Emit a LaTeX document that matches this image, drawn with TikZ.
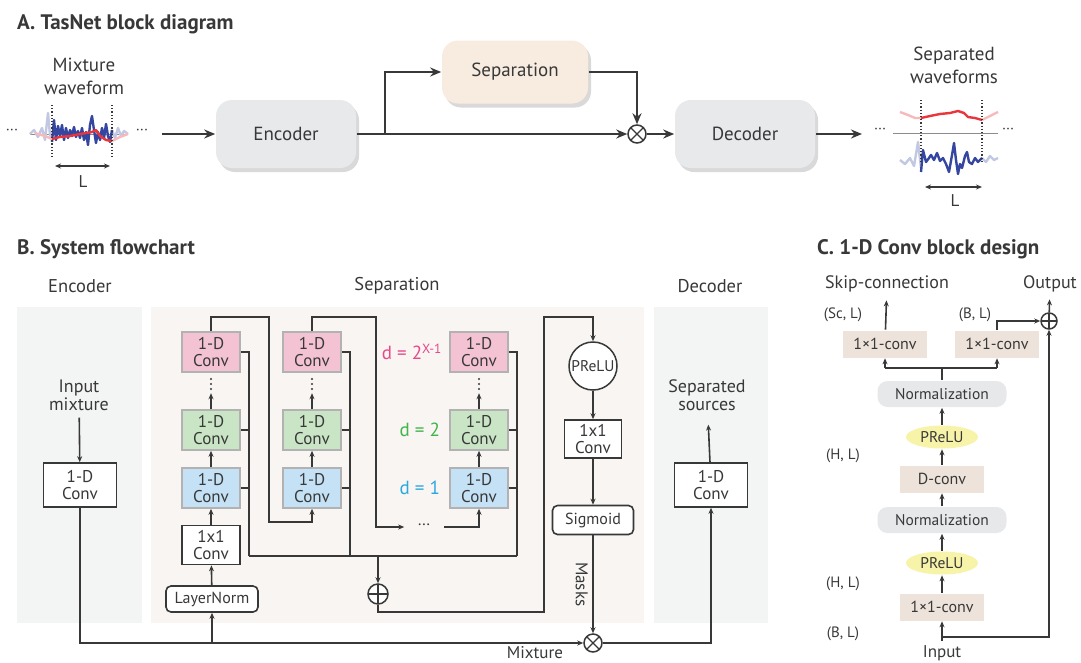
\documentclass[tikz,border=0pt]{standalone}
\usepackage{fontspec}
\setmainfont{PT Sans}
\usetikzlibrary{arrows.meta,shadows,shapes.geometric,positioning,calc}

\definecolor{txt}{HTML}{383838}
\definecolor{boxgray}{HTML}{E8E9EA}
\definecolor{sepbeige}{HTML}{F8ECE1}
\definecolor{panelgray}{HTML}{F3F4F4}
\definecolor{panelbeige}{HTML}{F8F5F2}
\definecolor{convpink}{HTML}{F4C3D3}
\definecolor{convgreen}{HTML}{C9E5C6}
\definecolor{convblue}{HTML}{C5E1F5}
\definecolor{dpink}{HTML}{E8488A}
\definecolor{dgreen}{HTML}{3FB54A}
\definecolor{dblue}{HTML}{2AA8E0}
\definecolor{tanbox}{HTML}{EDE3DA}
\definecolor{normgray}{HTML}{E7E8E9}
\definecolor{preluyel}{HTML}{F7F3A8}
\definecolor{wblue}{HTML}{3446A0}
\definecolor{wred}{HTML}{E8363C}

\tikzset{
  fsz/.style={font=\fontsize{#1}{#1}\selectfont},
  title/.style={font=\fontsize{21}{21}\selectfont\bfseries, anchor=base west},
  blockA/.style={rounded corners=16pt, fill=boxgray, minimum width=140pt, minimum height=68pt, fsz=19,
    drop shadow={shadow xshift=3pt, shadow yshift=-4pt, opacity=.3}},
  arrA/.style={line width=2.3pt, -{Stealth[length=11pt,width=9pt]}},
  arr/.style={-{Stealth[length=6pt,width=5pt]}},
  arrC/.style={line width=1.6pt, -{Stealth[length=6pt,width=5pt]}},
  plainbox/.style={draw, fill=white, line width=1.6pt, minimum width=73pt, minimum height=44pt, align=center, fsz=17},
  convbox/.style={draw=black!30, line width=1.6pt, minimum width=58pt, minimum height=40pt, align=center, fsz=17},
  roundbox/.style={draw, fill=white, rounded corners=5pt, line width=1.6pt, fsz=16},
  prodnode/.style={circle, draw, fill=white, line width=1.5pt, minimum size=18pt, inner sep=0pt,
    path picture={\draw[line width=1.1pt] (path picture bounding box.north west) -- (path picture bounding box.south east)
      (path picture bounding box.north east) -- (path picture bounding box.south west);}},
  sumnode/.style={circle, draw, fill=white, line width=1.5pt, minimum size=20pt, inner sep=0pt,
    path picture={\draw[line width=1.1pt] (path picture bounding box.north) -- (path picture bounding box.south)
      (path picture bounding box.east) -- (path picture bounding box.west);}},
  tan/.style={fill=tanbox, minimum width=84pt, minimum height=27pt, fsz=16},
  normbox/.style={fill=normgray, rounded corners=10pt, minimum width=129pt, minimum height=26pt, fsz=15.5},
  yel/.style={ellipse, fill=preluyel, minimum width=72pt, minimum height=23pt, inner sep=0pt, fsz=15.5},
  wave/.style={line width=2.4pt, line join=round},
}

\begin{document}
\begin{tikzpicture}[x=1pt,y=-1pt,color=txt,line width=1.6pt]
\useasboundingbox (0,0) rectangle (1081,662);

% A. TasNet block diagram
\node[title] (tA) at (13,29) {A. TasNet block diagram};
\node[fsz=19,align=center] (mixlbl) at (84,76) {Mixture\\[4pt]waveform};
\draw[line width=.6pt,black!45] (30,134) -- (128,134);
\draw[wave,wblue!30] plot coordinates {(30,134)(34,130)(38,137)(42,128)(45,140)(48,113)(50,135)(52,140)};
\draw[wave,wblue!30] plot coordinates {(112,130)(115,138)(118,128)(121,136)(124,131)(128,134)};
\draw[wave,wblue] plot coordinates {(52,142)(54,120)(56,140)(58,126)(60,136)(62,125)(64,140)(66,128)(68,138)(70,130)(72,136)(74,127)(76,137)(78,131)(80,138)(82,128)(84,140)(86,132)(88,145)(90,125)(92,116)(94,130)(96,143)(98,132)(100,140)(102,128)(104,138)(106,124)(108,136)(110,142)(112,130)};
\draw[wave,wred!35] plot coordinates {(35,133)(45,136)(52,139)};
\draw[wave,wred!35] plot coordinates {(112,141)(120,137)(128,134)};
\draw[wave,wred] plot coordinates {(52,139)(60,137)(70,136)(80,134)(92,132)(96,130)(100,136)(106,140)(112,141)};
\draw[dotted,line width=1.2pt] (52,105) -- (52,158) (112,105) -- (112,158);
\node[fsz=15] (ldotsA) at (12,132) {···};
\node[fsz=15] (rdotsA) at (142,132) {···};
\draw[line width=1.3pt,{Stealth[length=6pt,width=5pt]}-{Stealth[length=6pt,width=5pt]}] (55,166) -- (110,166);
\node[fsz=17] (LA) at (83,182) {L};

\node[blockA] (enc) at (286,134) {Encoder};
\node[blockA, fill=sepbeige, minimum width=146pt, minimum height=63pt] (sep) at (515,72) {Separation};
\node[blockA] (dec) at (745,134) {Decoder};
\node[prodnode] (mulA) at (637,134) {};
\coordinate (mixout) at (162,134);
\coordinate (brA) at (385,134);
\coordinate (sepin) at (862,134);
\draw[arrA] (mixout) -- (enc);
\draw[arrA] (enc) -- (mulA);
\draw[arrA] (brA) |- (sep);
\draw[arrA] (sep) -| (mulA);
\draw[arrA] (mulA) -- (dec);
\draw[arrA] (dec) -- (sepin);

\node[fsz=19,align=center] (seplbl) at (954,65) {Separated\\[4pt]waveforms};
\draw[line width=.6pt,black!45] (893,133) -- (998,133);
\draw[wave,wred!35] plot coordinates {(900,112)(908,115)(915,118)(921,118)};
\draw[wave,wred!35] plot coordinates {(982,120)(990,116)(998,112)};
\draw[wave,wred] plot coordinates {(921,118)(930,116)(940,114)(950,113)(958,111)(964,113)(968,117)(975,118)(982,120)};
\draw[wave,wblue!30] plot coordinates {(900,160)(905,164)(910,158)(914,166)(918,142)(921,168)};
\draw[wave,wblue!30] plot coordinates {(982,158)(986,162)(990,156)(994,160)(998,158)};
\draw[wave,wblue] plot coordinates {(921,172)(923,150)(926,162)(929,158)(931,155)(934,160)(937,153)(940,161)(943,158)(946,164)(949,172)(952,155)(954,143)(956,160)(958,174)(960,164)(962,168)(965,156)(967,152)(969,162)(972,164)(975,158)(978,162)(982,158)};
\draw[dotted,line width=1.2pt] (921,100) -- (921,162) (982,100) -- (982,162);
\node[fsz=15] (ldotsB) at (880,131) {···};
\node[fsz=15] (rdotsB) at (1008,131) {···};
\draw[line width=1.3pt,{Stealth[length=6pt,width=5pt]}-{Stealth[length=6pt,width=5pt]}] (925,187) -- (982,187);
\node[fsz=17] (LB) at (955,201) {L};

% B. System flowchart
\node[title] (tB) at (13,254) {B. System flowchart};
\fill[panelgray] (17,307) rectangle (142,623);
\fill[panelbeige] (151,307) rectangle (644,623);
\fill[panelgray] (654,307) rectangle (768,623);
\node[fsz=18.5] (hEnc) at (80,286) {Encoder};
\node[fsz=18.5] (hSep) at (397,286) {Separation};
\node[fsz=18.5] (hDec) at (710,286) {Decoder};

\node[fsz=18,align=center] (inmix) at (79,395) {Input\\mixture};
\node[plainbox] (encconv) at (80,485) {1-D\\Conv};
\draw[arr,shorten <=3pt] (inmix) -- (encconv);

\node[prodnode] (mixmul) at (593,643) {};
\draw[arr] (encconv) |- (mixmul);
\node[fsz=17] (mixname) at (535,653) {Mixture};

\node[plainbox] (decconv) at (711,485) {1-D\\Conv};
\node[fsz=18,align=center] (sepsrc) at (707,395) {Separated\\sources};
\draw[arr,shorten >=10pt] (decconv) -- (sepsrc);
\draw[arr] (mixmul) -| (decconv);

% separation
\node[roundbox, minimum width=92pt, minimum height=26pt] (lnorm) at (212,599) {LayerNorm};
\node[plainbox, minimum width=58pt, minimum height=39pt] (bott) at (211,545) {1x1\\Conv};
\draw[arr] (lnorm |- mixmul) -- (lnorm);
\draw[arr] (lnorm) -- (bott);

\coordinate (skipy) at (0,556);
\coordinate (topy) at (0,317);
\foreach \col/\x in {a/211,b/312,c/479}{
  \node[convbox,fill=convblue] (\col1) at (\x,488) {1-D\\Conv};
  \node[convbox,fill=convgreen] (\col2) at (\x,430) {1-D\\Conv};
  \node[convbox,fill=convpink] (\col3) at (\x,352) {1-D\\Conv};
  \foreach \yy in {379,384,389} \fill (\x,\yy) circle (1.2pt);
  \draw[arr] (\col1) -- (\col2);
  \draw[arr] (\col2.north) -- ++(0,-16);
  \coordinate (bus\col) at ($(\col3.east)+(8,0)$);
  \draw (\col3.east) -- (bus\col) -- (bus\col |- skipy);
  \draw (\col2.east) -- (\col2.east -| bus\col);
  \draw (\col1.east) -- (\col1.east -| bus\col);
}
\draw[arr] (bott) -- (a1);
\draw (busa |- skipy) -- (busc |- skipy);

\node[fsz=19,text=dpink,anchor=east] (dX) at (446,352) {d = 2\textsuperscript{X-1}};
\node[fsz=19,text=dgreen,anchor=east] (d2) at (444,430) {d = 2};
\node[fsz=19,text=dblue,anchor=east] (d1) at (444,488) {d = 1};

\coordinate (resa) at (269,522);
\draw[arr] (a3) |- (resa |- topy) -- (resa) -| (b1);
\coordinate (resb) at (376,527);
\node[fsz=16,minimum width=38pt,inner sep=0pt] (hdots) at (424,527) {···};
\draw[arr] (b3) |- (resb |- topy) -- (resb) -- (hdots);
\draw[arr] (hdots) -| (c1);

\node[sumnode] (skipadd) at (378,594) {};
\draw[arr] (skipadd |- skipy) -- (skipadd);

\node[circle, draw, fill=white, line width=1.5pt, minimum size=48pt, inner sep=0pt, fsz=15.5] (prelu) at (593,366) {PReLU};
\node[plainbox, minimum width=57pt, minimum height=38pt] (outconv) at (593,439) {1x1\\Conv};
\node[roundbox, minimum width=81pt, minimum height=29pt] (sigm) at (593,520) {Sigmoid};
\coordinate (outx) at (544,612);
\draw[arr] (skipadd) |- (outx) |- (prelu |- topy) -- (prelu);
\draw[arr] (prelu) -- (outconv);
\draw[arr] (outconv) -- (sigm);
\draw[arr] (sigm) -- (mixmul) node[midway, rotate=-90, anchor=north, fsz=17, yshift=-1pt] (masks) {Masks};

% C. 1-D Conv block design
\node[title] (tC) at (813,254) {C. 1-D Conv block design};
\node[fsz=18] (skiplbl) at (887,284) {Skip-connection};
\node[fsz=18] (outlbl) at (1050,284) {Output};
\node[fsz=15] (scl) at (843,315) {(Sc, L)};
\node[fsz=15] (bl1) at (975,315) {(B, L)};
\node[fsz=15] (hl1) at (843,456) {(H, L)};
\node[fsz=15] (hl2) at (843,584) {(H, L)};
\node[fsz=15] (bl2) at (843,634) {(B, L)};

\node[tan] (cin) at (942,607) {1×1-conv};
\node[yel] (cpr1) at (942,563) {PReLU};
\node[normbox] (cnorm1) at (942,520) {Normalization};
\node[tan] (cdconv) at (942,479) {D-conv};
\node[yel] (cpr2) at (942,437) {PReLU};
\node[normbox] (cnorm2) at (942,394) {Normalization};
\node[tan] (cskip) at (885,344) {1×1-conv};
\node[tan] (cres) at (997,344) {1×1-conv};
\node[sumnode, minimum size=16pt] (cadd) at (1049,321) {};
\node[fsz=17] (cinput) at (942,653) {Input};

\coordinate (splity) at (0,368);
\coordinate (resy) at (0,637);
\draw[arrC] (cinput) -- (cin);
\draw[arrC] (cin |- resy) -| (cadd);
\draw[arrC] (cin) -- (cpr1);
\draw[arrC] (cpr1) -- (cnorm1);
\draw[arrC] (cnorm1) -- (cdconv);
\draw[arrC] (cdconv) -- (cpr2);
\draw[arrC] (cpr2) -- (cnorm2);
\draw[line width=1.6pt] (cnorm2) -- (cnorm2 |- splity);
\draw[line width=1.6pt] (cskip |- splity) -- (cres |- splity);
\draw[arrC] (cskip |- splity) -- (cskip);
\draw[arrC] (cres |- splity) -- (cres);
\draw[arrC,shorten >=4pt] (cskip) -- (skiplbl);
\draw[arrC] (cres) |- (cadd);
\draw[arrC,shorten >=3pt] (cadd) -- (outlbl);
\end{tikzpicture}
\end{document}
